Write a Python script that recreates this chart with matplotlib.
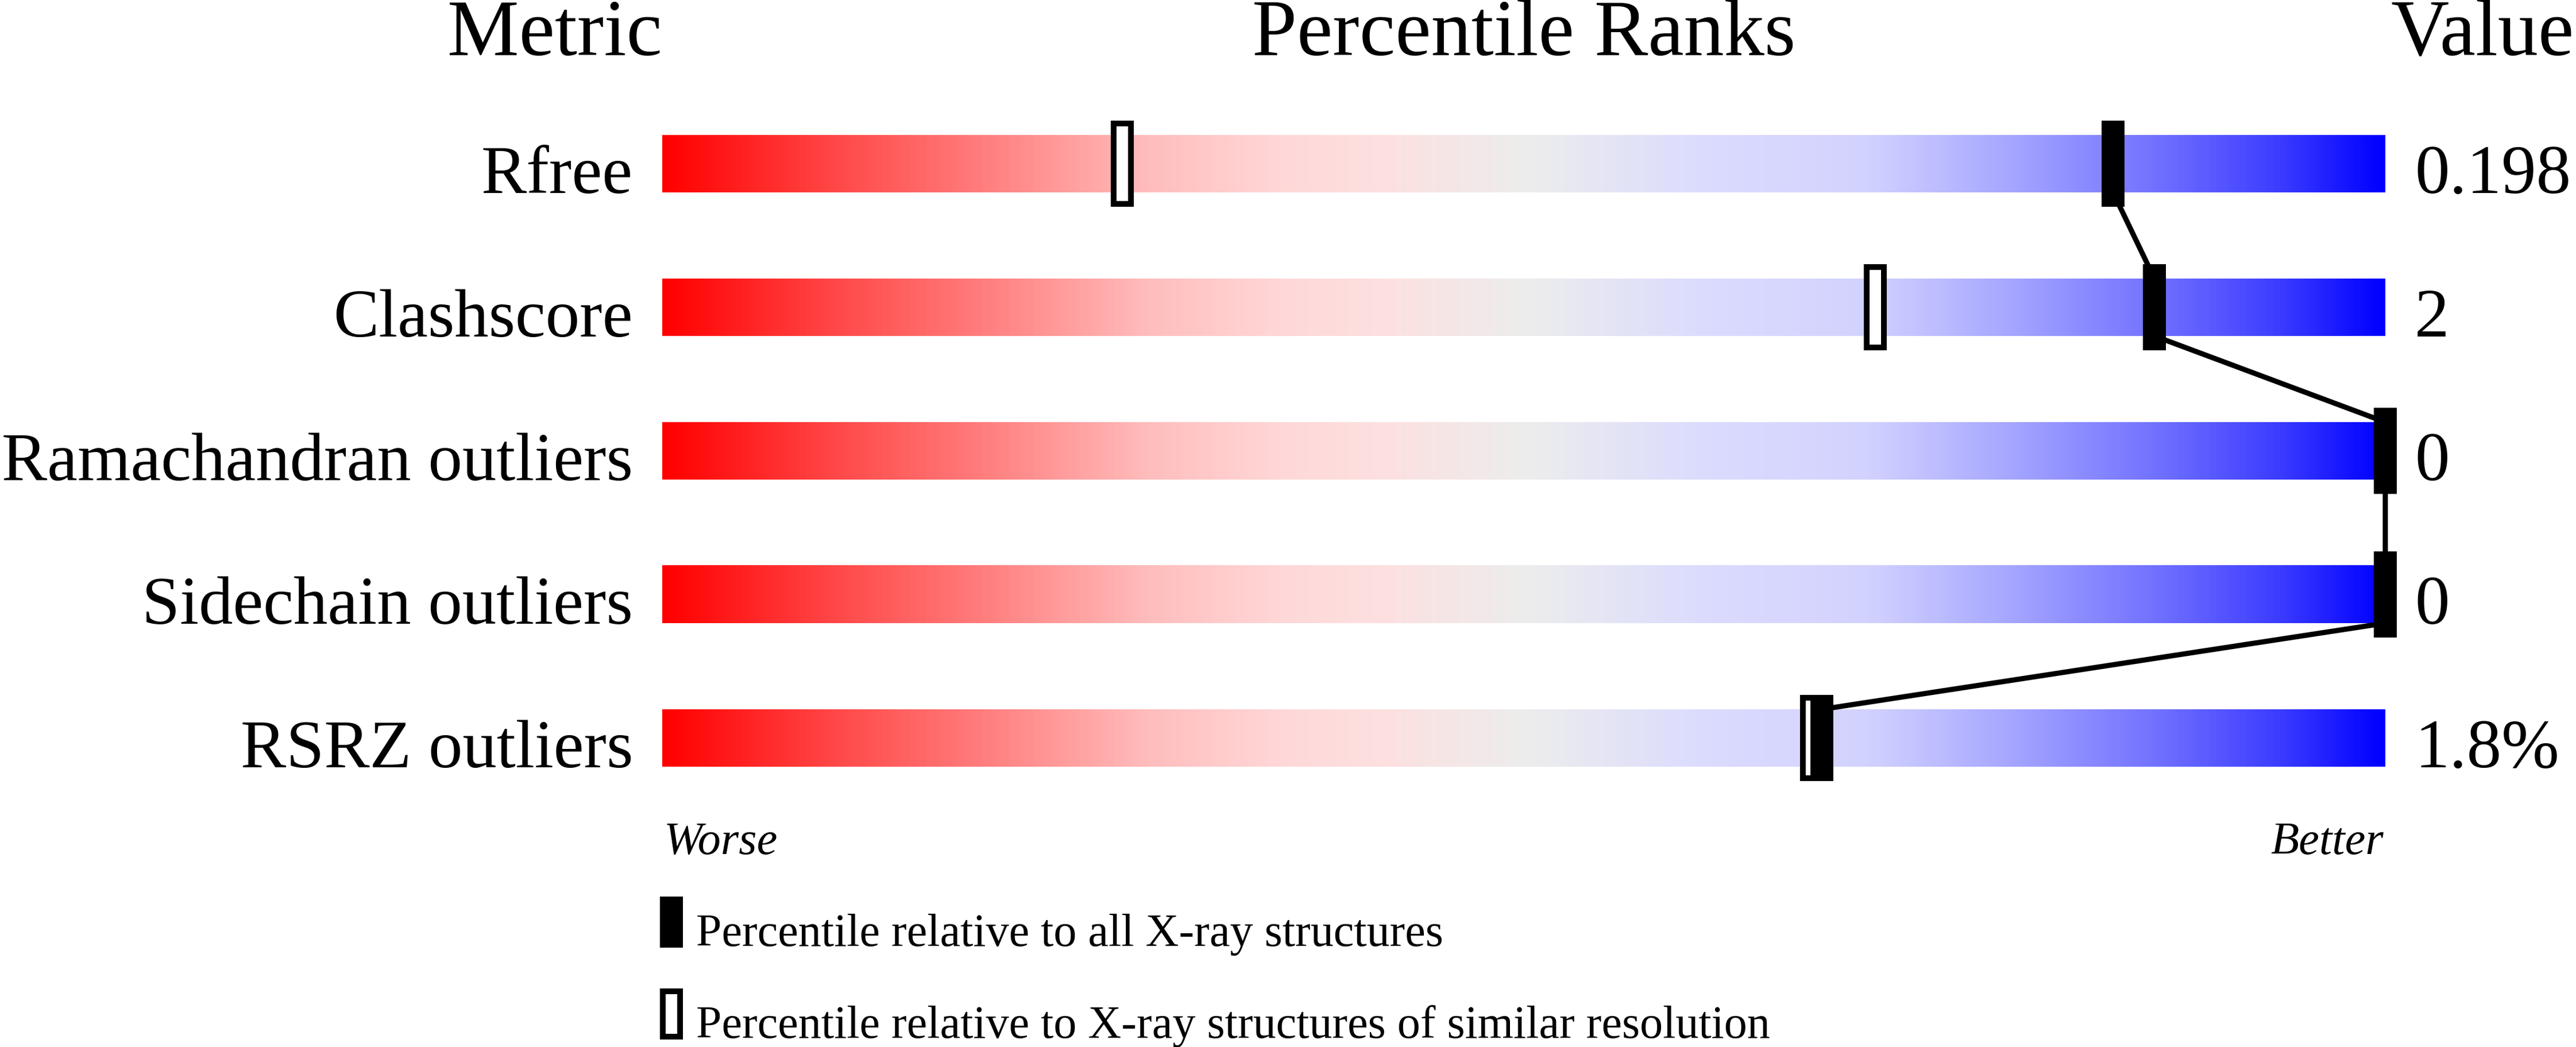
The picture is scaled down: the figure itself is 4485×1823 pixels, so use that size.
import numpy as np
import matplotlib
matplotlib.use("Agg")
import matplotlib.pyplot as plt
from matplotlib.colors import LinearSegmentedColormap
from matplotlib.patches import Rectangle

# chart data
metrics = ["Rfree", "Clashscore", "Ramachandran outliers", "Sidechain outliers", "RSRZ outliers"]
values = ["0.198", "2", "0", "0", "1.8%"]
pct_all = [84.2, 86.6, 100.0, 100.0, 67.3]        # filled marker
pct_similar = [26.7, 70.4, 100.0, 100.0, 66.7]    # open marker
legend_labels = ["Percentile relative to all X-ray structures",
                 "Percentile relative to X-ray structures of similar resolution"]

plt.rcParams['font.family'] = ['Liberation Serif', 'DejaVu Serif']

# red -> grey -> blue slider colours
stops = [(0.00, "#ff0000"), (0.10, "#ff4848"), (0.20, "#ff8787"), (0.28, "#ffbcbc"),
         (0.36, "#ffd8d8"), (0.42, "#fde0e0"), (0.50, "#ededed"), (0.60, "#dcdcfe"),
         (0.70, "#d2d2ff"), (0.78, "#a8a8ff"), (0.87, "#7070ff"), (0.94, "#3c3cff"),
         (1.00, "#0000ff")]
cmap = LinearSegmentedColormap.from_list("slider", stops, N=512)

fig = plt.figure(figsize=(44.85, 18.24), dpi=100)
ax = fig.add_axes([0, 0, 1, 1])
ax.set_xlim(-38.433, 111.067)
ax.set_ylim(6.152, -1.144)
ax.axis("off")

bar_h = 0.4
grad = np.linspace(0, 1, 512).reshape(1, -1)
rows = np.arange(len(metrics))

for r in rows:
    ax.imshow(grad, cmap=cmap, aspect="auto", interpolation="bilinear",
              extent=(0, 100, r + bar_h / 2, r - bar_h / 2), zorder=1)

# connecting line between filled markers
xs, ys = [], []
for r, p in zip(rows, pct_all):
    xs += [p, p]
    ys += [r - bar_h / 2, r + bar_h / 2]
ax.plot(xs[1:-1], ys[1:-1], color="black", lw=6.5, solid_capstyle="butt", zorder=2)

mw, mh = 1.333, 0.6
lw_open = 7.2
for r, p in zip(rows, pct_similar):
    ax.add_patch(Rectangle((p - (mw - 0.333) / 2, r - (mh - 0.04) / 2), mw - 0.333, mh - 0.04,
                           facecolor="white", edgecolor="black", lw=lw_open, zorder=3))
for r, p in zip(rows, pct_all):
    ax.add_patch(Rectangle((p - mw / 2, r - mh / 2), mw, mh,
                           facecolor="black", edgecolor="none", zorder=4))

# headers
hdr = 101
ax.text(0, -0.76, "Metric", ha="right", va="baseline", fontsize=hdr)
ax.text(50, -0.76, "Percentile Ranks", ha="center", va="baseline", fontsize=hdr)
ax.text(110.95, -0.76, "Value", ha="right", va="baseline", fontsize=hdr)

for r, m, v in zip(rows, metrics, values):
    ax.text(-1.7, r + bar_h / 2, m, ha="right", va="baseline", fontsize=85.6)
    ax.text(101.7, r + bar_h / 2, v, ha="left", va="baseline", fontsize=87)

ax.text(0.1, 4.804, "Worse", ha="left", va="baseline", fontsize=58, style="italic")
ax.text(99.9, 4.804, "Better", ha="right", va="baseline", fontsize=58, style="italic")

# legend
ax.add_patch(Rectangle((-0.133, 5.104), 1.333, 0.356, facecolor="black", edgecolor="none"))
ax.add_patch(Rectangle((0.034, 5.764), 1.0, 0.316, facecolor="white", edgecolor="black", lw=lw_open))
ax.text(1.97, 5.444, legend_labels[0], ha="left", va="baseline", fontsize=57.7)
ax.text(1.97, 6.084, legend_labels[1], ha="left", va="baseline", fontsize=57.7)

fig.savefig("out.png", dpi=100, facecolor="white")
